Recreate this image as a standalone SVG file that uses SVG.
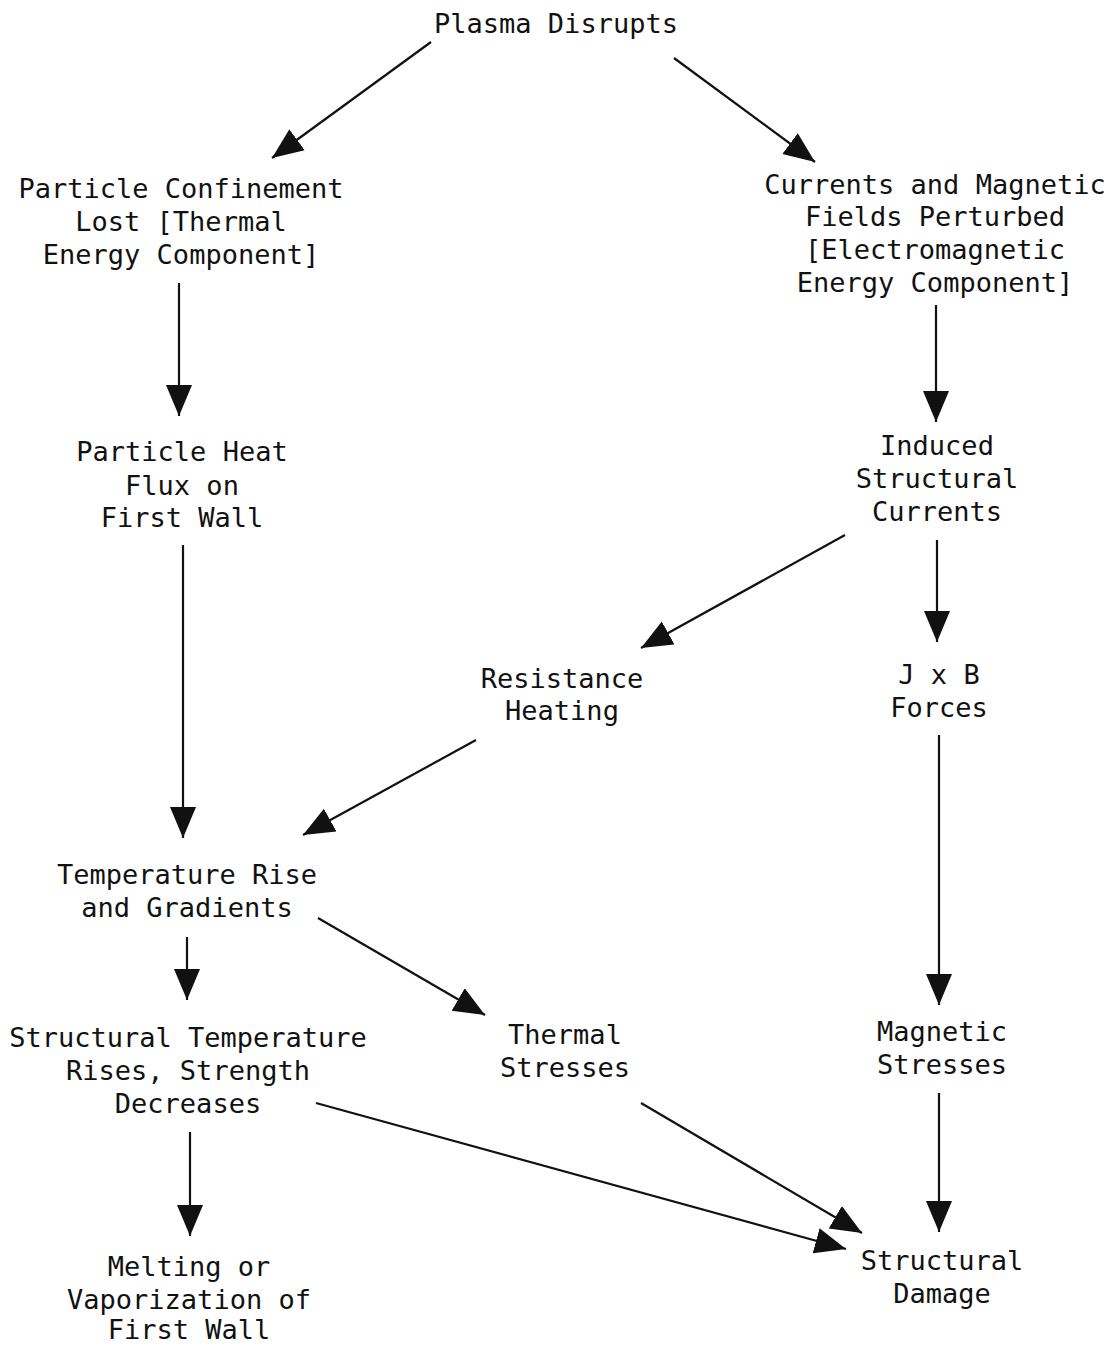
<svg xmlns="http://www.w3.org/2000/svg" width="1115" height="1346" viewBox="0 0 1115 1346">
<style>
text{font-family:"DejaVu Sans Mono","Liberation Mono",monospace;font-size:27px;fill:#111;text-anchor:middle}
.c{stroke:#111;stroke-width:2.2;fill:none;marker-end:url(#ah)}
</style>
<defs>
<marker id="ah" markerUnits="userSpaceOnUse" markerWidth="32" markerHeight="28" viewBox="0 0 32 28" refX="31" refY="14" orient="auto">
<path d="M0,1 L31,14 L0,27 z" fill="#111"/>
</marker>
</defs>
<rect width="1115" height="1346" fill="#fff"/>
<g id="connectors">
<line class="c" x1="431" y1="42" x2="272" y2="158"/>
<line class="c" x1="674" y1="58" x2="815" y2="162"/>
<line class="c" x1="179" y1="283" x2="179" y2="416"/>
<line class="c" x1="936" y1="305" x2="936" y2="422"/>
<line class="c" x1="183" y1="545" x2="183" y2="838"/>
<line class="c" x1="845" y1="535" x2="641" y2="648"/>
<line class="c" x1="937" y1="540" x2="937" y2="642"/>
<line class="c" x1="476" y1="740" x2="303" y2="835"/>
<line class="c" x1="939" y1="735" x2="939" y2="1005"/>
<line class="c" x1="187" y1="937" x2="187" y2="1000"/>
<line class="c" x1="318" y1="918" x2="485" y2="1015"/>
<line class="c" x1="939" y1="1093" x2="939" y2="1232"/>
<line class="c" x1="190" y1="1132" x2="190" y2="1236"/>
<line class="c" x1="316" y1="1103" x2="846" y2="1249"/>
<line class="c" x1="641" y1="1103" x2="862" y2="1233"/>
</g>
<g id="n1"><text x="556" y="33">Plasma Disrupts</text></g>
<g id="n2"><text x="181" y="198">Particle Confinement</text><text x="181" y="231">Lost [Thermal</text><text x="181" y="264">Energy Component]</text></g>
<g id="n3"><text x="935" y="194">Currents and Magnetic</text><text x="935" y="226">Fields Perturbed</text><text x="935" y="259">[Electromagnetic</text><text x="935" y="292">Energy Component]</text></g>
<g id="n4"><text x="182" y="461">Particle Heat</text><text x="182" y="495">Flux on</text><text x="182" y="527">First Wall</text></g>
<g id="n5"><text x="937" y="455">Induced</text><text x="937" y="488">Structural</text><text x="937" y="521">Currents</text></g>
<g id="n6"><text x="562" y="688">Resistance</text><text x="562" y="720">Heating</text></g>
<g id="n7"><text x="939" y="684">J x B</text><text x="939" y="717">Forces</text></g>
<g id="n8"><text x="187" y="884">Temperature Rise</text><text x="187" y="917">and Gradients</text></g>
<g id="n9"><text x="188" y="1047">Structural Temperature</text><text x="188" y="1080">Rises, Strength</text><text x="188" y="1113">Decreases</text></g>
<g id="n10"><text x="565" y="1044">Thermal</text><text x="565" y="1077">Stresses</text></g>
<g id="n11"><text x="942" y="1041">Magnetic</text><text x="942" y="1074">Stresses</text></g>
<g id="n12"><text x="189" y="1276">Melting or</text><text x="189" y="1309">Vaporization of</text><text x="189" y="1339">First Wall</text></g>
<g id="n13"><text x="942" y="1270">Structural</text><text x="942" y="1303">Damage</text></g>
</svg>
